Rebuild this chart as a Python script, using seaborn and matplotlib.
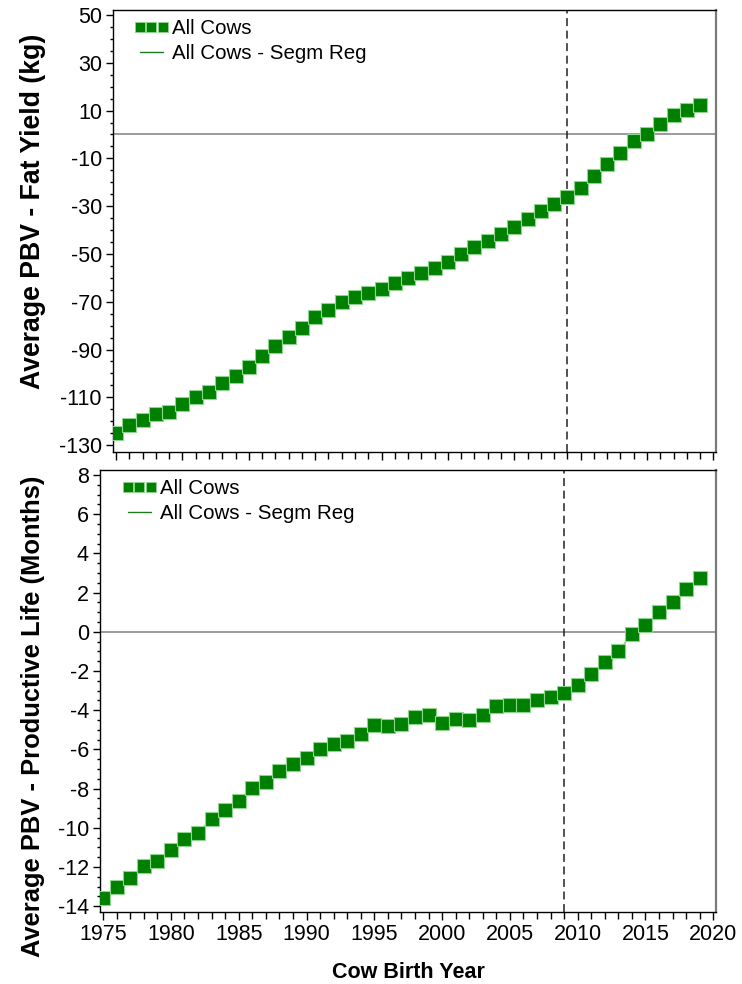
import numpy as np
import pandas as pd
import matplotlib
matplotlib.use("Agg")
import matplotlib.pyplot as plt
from matplotlib.lines import Line2D
import seaborn as sns

# Cow birth years and average breeding values
years = list(range(1975, 2020))
fat_yield = [-125.0, -121.6, -119.7, -117.1, -116.2, -112.7, -109.8, -107.8, -104.2, -101.1,
             -97.3, -92.7, -88.4, -84.8, -80.9, -76.3, -73.5, -70.1, -68.2, -66.4,
             -64.7, -62.3, -60.1, -58.1, -55.9, -53.4, -50.0, -47.1, -44.5, -41.7,
             -38.9, -35.4, -31.9, -29.0, -26.1, -22.5, -17.3, -12.5, -7.8, -2.9,
             0.3, 4.2, 8.1, 10.4, 12.5]
prod_life = [-13.60, -13.00, -12.54, -11.94, -11.69, -11.11, -10.55, -10.26, -9.54, -9.10,
             -8.62, -7.96, -7.66, -7.11, -6.75, -6.43, -5.97, -5.70, -5.59, -5.22,
             -4.73, -4.80, -4.68, -4.35, -4.27, -4.64, -4.44, -4.51, -4.27, -3.81,
             -3.71, -3.74, -3.49, -3.32, -3.11, -2.71, -2.17, -1.53, -0.98, -0.13,
             0.36, 0.99, 1.52, 2.20, 2.76]
break_year = 2009
series_labels = ["All Cows", "All Cows - Segm Reg"]
x_ticks = list(range(1975, 2021, 5))
fat_ticks = list(range(-130, 51, 20))
life_ticks = list(range(-14, 9, 2))

sns.set_style("ticks")
plt.rcParams['font.family'] = ['Liberation Sans', 'DejaVu Sans']
plt.rcParams['axes.unicode_minus'] = False
plt.rcParams['text.color'] = 'black'
plt.rcParams['xtick.color'] = 'black'
plt.rcParams['ytick.color'] = 'black'
plt.rcParams['xtick.top'] = False
plt.rcParams['ytick.right'] = False

GREEN = "#008000"
EDGE = "#8fd48f"
LINE = "#7cc47c"

df = pd.DataFrame({"year": years, "fat": fat_yield, "life": prod_life})

fig = plt.figure(figsize=(7.42, 9.84), dpi=100)
W, H = 742.0, 984.0
ax1 = fig.add_axes([113 / W, 1 - 452 / H, 603 / W, 442 / H])
ax2 = fig.add_axes([100 / W, 1 - 912 / H, 616 / W, 442 / H])


def draw_panel(ax, col, ylim, yticks, yminor, legend_x):
    ax.axhline(0, color="#8a8a8a", lw=1.2, zorder=1)
    ax.axvline(break_year, color="#222222", lw=1.1, ls=(0, (5.2, 3.0)), zorder=1)
    sns.lineplot(data=df, x="year", y=col, ax=ax, color=LINE, lw=1.0, zorder=2,
                 legend=False)
    sns.scatterplot(data=df, x="year", y=col, ax=ax, marker="s", s=95,
                    color=GREEN, edgecolor=EDGE, linewidth=0.8, zorder=3,
                    legend=False)
    ax.set_xlim(1974.77, 2020.2)
    ax.set_ylim(*ylim)
    ax.set_xticks(x_ticks)
    ax.set_xticks(list(range(1975, 2021)), minor=True)
    ax.set_yticks(yticks)
    ax.set_yticks(yminor, minor=True)
    ax.xaxis.set_ticks_position("bottom")
    ax.yaxis.set_ticks_position("left")
    ax.set_xlabel("")
    ax.set_ylabel("")
    ax.tick_params(axis="both", which="major", direction="out", labelsize=15.5,
                   width=1, color="black", labelcolor="black", pad=3)
    ax.tick_params(axis="x", which="major", length=6)
    ax.tick_params(axis="x", which="minor", length=5, width=1)
    ax.tick_params(axis="y", which="major", length=5)
    ax.tick_params(axis="y", which="minor", length=2.5, width=1)
    for side in ["left", "bottom", "top"]:
        ax.spines[side].set_visible(True)
        ax.spines[side].set_color("black")
        ax.spines[side].set_linewidth(1.0)
    ax.spines["right"].set_visible(True)
    ax.spines["right"].set_color("#7a7a7a")
    ax.spines["right"].set_linewidth(1.6)

    h_pts = Line2D([], [], marker="s", ls="none", markerfacecolor=GREEN,
                   markeredgecolor=EDGE, markeredgewidth=0.6, markersize=7.5)
    h_reg = Line2D([], [], color="#1f7a1f", lw=1.0)
    leg = ax.legend([h_pts, h_reg], series_labels, loc="upper left",
                    bbox_to_anchor=(legend_x, 1 - 9 / 442), frameon=False,
                    numpoints=3, fontsize=14.8, handlelength=1.7,
                    handletextpad=0.15, borderpad=0, borderaxespad=0,
                    labelspacing=0.3)
    for t in leg.get_texts():
        t.set_color("black")
    return leg


draw_panel(ax1, "fat", (-132.9, 52.1), fat_ticks, np.arange(-130, 51, 5), 21 / 603)
draw_panel(ax2, "life", (-14.3, 8.26), life_ticks, np.arange(-14, 8.1, 0.5), 22 / 616)
ax1.tick_params(axis="x", which="both", labelbottom=False)

fig.text(33 / W, 1 - 211 / H, "Average PBV - Fat Yield (kg)", rotation=90,
         ha="center", va="center", fontsize=19.2, fontweight="bold")
fig.text(33 / W, 1 - 716 / H, "Average PBV - Productive Life (Months)", rotation=90,
         ha="center", va="center", fontsize=18.4, fontweight="bold")
fig.text(408 / W, 1 - 972 / H, "Cow Birth Year", ha="center", va="center",
         fontsize=15.5, fontweight="bold")

fig.savefig("out.png", dpi=100, facecolor="white")
